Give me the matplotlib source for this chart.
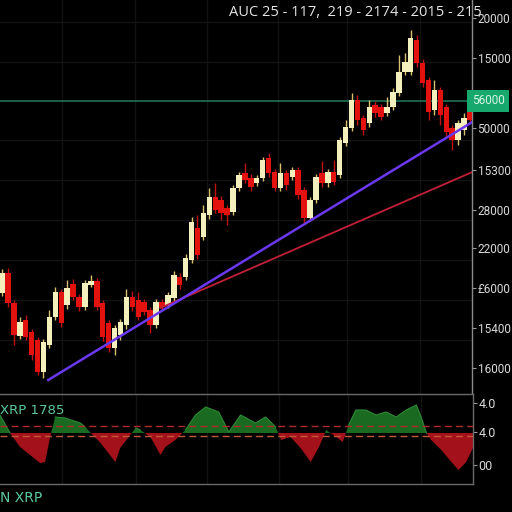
import matplotlib
matplotlib.use("Agg")
import matplotlib.pyplot as plt
import numpy as np

# ---------------- data ----------------
title = "AUC 25 - 117,  219 - 2174 - 2015 - 215"

opens = [102, 122, 92, 59, 75, 63, 55, 23, 50, 78, 103, 90, 111, 98, 88, 110, 114, 92, 72, 47,
         60, 70, 98, 95, 93, 85, 70, 93, 90, 97, 118, 118, 135, 167, 158, 180, 198, 195, 187, 183,
         207, 222, 217, 212, 217, 237, 223, 207, 222, 218, 225, 205, 177, 195, 222, 212, 223, 220, 252, 267,
         295, 277, 272, 290, 288, 282, 288, 302, 323, 323, 355, 332, 315, 285, 305, 288, 267, 255, 265, 287]
closes = [122, 92, 60, 73, 58, 40, 23, 53, 78, 103, 72, 107, 98, 88, 112, 114, 88, 58, 47, 67,
          73, 98, 88, 78, 83, 70, 93, 88, 100, 120, 110, 137, 173, 140, 182, 198, 185, 182, 180, 207,
          220, 215, 208, 217, 235, 222, 207, 222, 210, 225, 200, 177, 195, 218, 212, 223, 213, 255, 268, 295,
          275, 265, 288, 282, 278, 288, 303, 323, 333, 357, 332, 312, 283, 305, 280, 263, 255, 272, 277, 275]
highs = [126, 127, 95, 78, 80, 66, 58, 56, 85, 108, 106, 115, 116, 101, 115, 120, 117, 95, 75, 70,
         76, 106, 104, 103, 96, 88, 96, 96, 103, 124, 122, 141, 178, 180, 190, 207, 212, 199, 190, 210,
         223, 232, 221, 220, 238, 242, 226, 232, 225, 228, 228, 208, 198, 221, 234, 226, 235, 258, 275, 302,
         300, 280, 295, 294, 291, 298, 307, 340, 342, 365, 360, 336, 318, 315, 308, 291, 270, 275, 282, 292]
lows = [99, 88, 50, 56, 55, 35, 20, 17, 47, 75, 68, 86, 95, 84, 85, 108, 85, 54, 43, 40,
        55, 66, 84, 75, 80, 62, 67, 85, 87, 94, 106, 115, 132, 136, 155, 176, 182, 175, 170, 180,
        204, 212, 204, 209, 214, 218, 204, 204, 205, 215, 196, 172, 174, 192, 208, 208, 210, 217, 249, 264,
        270, 260, 268, 278, 275, 279, 285, 299, 320, 320, 328, 308, 275, 280, 270, 258, 245, 250, 260, 272]

# trend lines (candle index, price)
trend_blue_x = [7.8, 79.4]
trend_blue_y = [15, 273]
trend_red_x = [26.7, 79.4]
trend_red_y = [87, 223]
level_green = 294
level_green_label = "56000"

price_ticks = [377, 337, 267, 225, 185, 147, 107, 67, 27]
price_labels = ["20000", "15000", "50000", "15300", "28000", "22000", "£6000", "15400", "16000"]

osc_x = [-0.34, 1.35, 3.04, 6.42, 7.26, 8.1, 8.95, 10.6, 13.2, 14.0, 16.6, 19.1, 19.9, 22.5, 23.3,
         25.0, 26.7, 27.5, 29.2, 30.9, 32.6, 34.3, 36.5, 38.2, 40.2, 42.7, 44.4, 46.1, 47.0, 48.6,
         50.3, 52.0, 53.4, 54.6, 56.3, 57.4, 58.4, 59.6, 61.3, 63.0, 64.7, 66.4, 68.1, 69.8, 70.6,
         71.5, 72.3, 74.0, 75.7, 76.9, 78.2, 79.4]
osc_v = [18, 0, -14, -30, -29, -4, 16, 15, 10, 6, -10, -29, -15, 5, 3,
         -4, -22, -14, -7, 3, 18, 26, 21, 1, 18, 10, 16, 6, -7, -4,
         -15, -29, -14, 3, -4, -9, 8, 23, 23, 18, 21, 16, 23, 28, 16,
         0, -7, -17, -29, -37, -29, -14]
osc_ticks = [30, 1, -32]
osc_labels = ["4.0", "4.0", "00"]
osc_levels = [7, -3]
osc_label_top = "XRP 1785"
bottom_label = "N XRP"

# ---------------- style ----------------
BG = "#000000"
CREAM = "#f4f0bd"
RED = "#e3120f"
GRID = "#121212"
TXT = "#d9d9d9"
TICKFONT = "Roboto"

fig = plt.figure(figsize=(5.12, 5.12), dpi=100, facecolor=BG)

ax = fig.add_axes([0, 117 / 512, 472 / 512, 395 / 512], facecolor=BG)
ax2 = fig.add_axes([0, 28 / 512, 473 / 512, 90 / 512], facecolor=BG)

n = len(opens)
x = np.arange(n)
xlim = (-0.34, n - 1 + 0.34)

# grid
for gx in [10.1, 22.5, 34.6, 46.6, 58.3, 70.6]:
    ax.axvline(gx, color=GRID, lw=1, zorder=0)
    ax2.axvline(gx, color=GRID, lw=1, zorder=0)
for gy in [373, 333, 255, 215, 175, 135, 95, 55]:
    ax.axhline(gy, color=GRID, lw=1, zorder=0)

ax.axhline(level_green, color="#1c7455", lw=1.2, zorder=1)

# candles
for i in range(n):
    o, c, h, l = opens[i], closes[i], highs[i], lows[i]
    col = CREAM if c >= o else RED
    wcol = "#d8c070" if c >= o else "#c01010"
    ax.vlines(x[i], l, h, color=wcol, lw=1.0, zorder=2)
    ax.bar(x[i], abs(c - o), bottom=min(o, c), width=0.92, color=col,
           edgecolor=col, lw=0, zorder=3)

ax.plot(trend_red_x, trend_red_y, color="#c41f38", lw=1.3, zorder=4)
ax.plot(trend_blue_x, trend_blue_y, color="#6a38f0", lw=1.8, zorder=5)

ax.set_xlim(*xlim)
ax.set_ylim(0, 395)
ax.set_xticks([])
ax.yaxis.tick_right()
ax.set_yticks(price_ticks)
ax.set_yticklabels(price_labels, family=TICKFONT)
ax.tick_params(axis="y", colors="#9a9a9a", labelcolor=TXT, labelsize=8.5,
               length=3, width=0.8, pad=1)
for s in ["top", "left", "bottom"]:
    ax.spines[s].set_visible(False)
ax.spines["right"].set_color("#8a8a8a")
ax.spines["right"].set_linewidth(1)

# green price box
ax.text(1.0, level_green, level_green_label, transform=ax.get_yaxis_transform(),
        ha="left", va="center", fontsize=8.5, color="#d8f5e5", clip_on=False,
        family=TICKFONT,
        bbox=dict(boxstyle="square,pad=0.4", fc="#17a86e", ec="none"))

# oscillator
ox = np.array(osc_x)
ov = np.array(osc_v)
ax2.fill_between(ox, 0, ov, where=ov >= 0, interpolate=True, color="#1b6a22", lw=0, zorder=2)
ax2.fill_between(ox, 0, ov, where=ov <= 0, interpolate=True, color="#a3121a", lw=0, zorder=2)
ax2.plot(ox, np.where(ov >= 0, ov, np.nan), color="#2d8a35", lw=0.8, zorder=3)
ax2.axhline(osc_levels[0], color="#b02a2a", lw=1, ls=(0, (5, 3)), zorder=4)
ax2.axhline(osc_levels[1], color="#c2583a", lw=1, ls=(0, (5, 3)), zorder=4)
ax2.set_xlim(*xlim)
ax2.set_ylim(-51, 39)
ax2.set_xticks([])
ax2.yaxis.tick_right()
ax2.set_yticks(osc_ticks)
ax2.set_yticklabels(osc_labels, family=TICKFONT)
ax2.tick_params(axis="y", colors="#9a9a9a", labelcolor=TXT, labelsize=9,
                length=3, width=0.8, pad=1)
ax2.spines["left"].set_visible(False)
for s in ["top", "bottom", "right"]:
    ax2.spines[s].set_color("#6a6a6a")
    ax2.spines[s].set_linewidth(1)

ax2.text(0.5 / 473, 1 - 16 / 90, osc_label_top, transform=ax2.transAxes,
         ha="left", va="center", fontsize=9.5, color="#5cc9a0")

fig.text(0 / 512, 1 - 498 / 512, bottom_label, ha="left", va="center",
         fontsize=10, color="#5cc9a0")

fig.text(482 / 512, 1 - 13 / 512, title, ha="right", va="center",
         fontsize=10.5, color="#e6e6e6", family="Open Sans")

fig.savefig("out.png", dpi=100, facecolor=BG)
